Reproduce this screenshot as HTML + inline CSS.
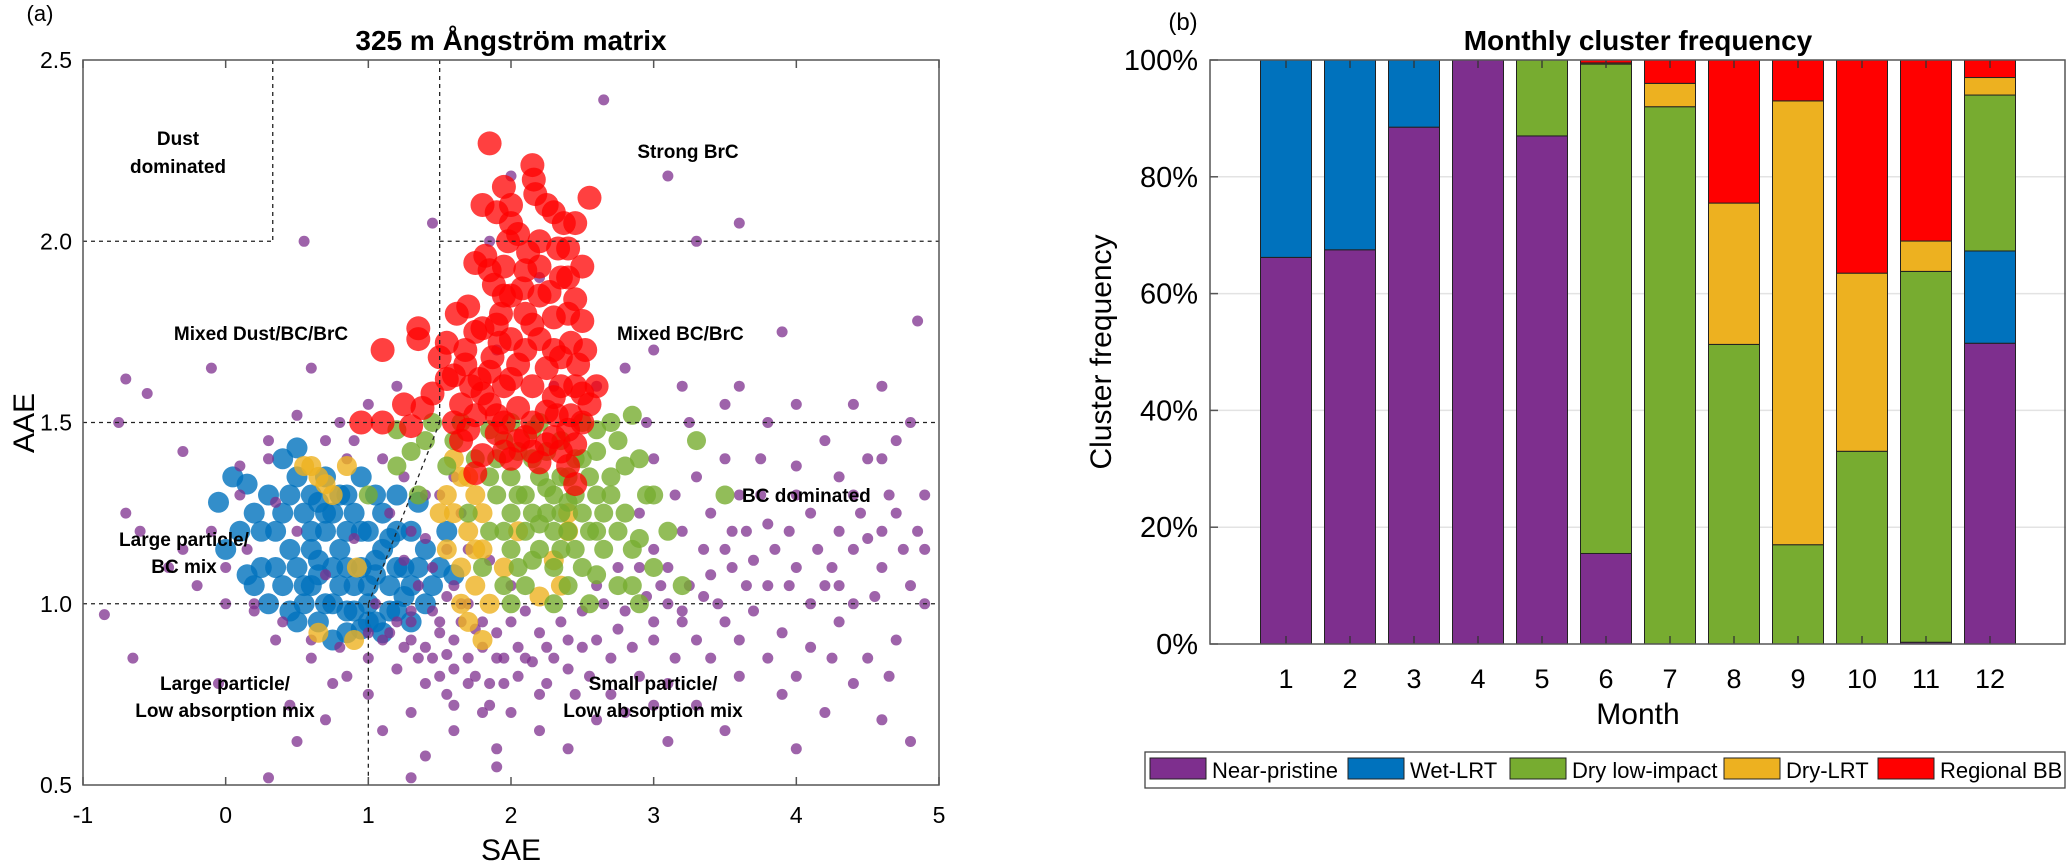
<!DOCTYPE html>
<html><head><meta charset="utf-8"><style>
html,body{margin:0;padding:0;background:#fff;}
svg{display:block;font-family:"Liberation Sans",Arial,sans-serif;}
</style></head><body>
<svg id="fig" width="2067" height="862" viewBox="0 0 2067 862" xmlns="http://www.w3.org/2000/svg">
<g id="left"></g>
<g id="right"></g>
</svg>
<script>
// ---------- Panel (a) data ----------
const xTicksA = [-1,0,1,2,3,4,5];
const yTicksA = [0.5,1.0,1.5,2.0,2.5];
const yTickLabelsA = ["0.5","1.0","1.5","2.0","2.5"];
const nearPristinePts = [[1.2,0.95],[1.3,0.9],[1.4,0.88],[1.5,0.92],[1.6,0.9],[1.7,0.85],[1.8,0.88],[1.9,0.92],[2.0,0.95],[2.1,0.98],[1.45,0.98],[1.55,1.02],[1.65,1.0],[1.35,1.05],[1.25,1.12],[1.4,1.18],[1.5,1.3],[1.6,1.35],[1.7,1.0],[1.75,0.8],[1.85,0.78],[1.6,0.82],[1.5,0.8],[1.95,0.85],[2.05,0.88],[2.2,0.92],[2.35,0.95],[2.5,0.98],[2.65,1.0],[2.8,0.98],[2.95,1.02],[3.1,1.0],[3.25,1.05],[3.4,1.08],[3.55,1.1],[3.7,1.12],[3.85,1.15],[4.0,1.1],[4.15,1.15],[4.3,1.2],[4.5,1.18],[4.7,1.25],[4.85,1.2],[3.0,1.15],[3.2,1.2],[3.4,1.25],[3.6,1.3],[3.8,1.22],[4.0,1.3],[4.2,1.05],[4.4,1.0],[4.6,1.1],[4.8,1.05],[3.3,0.9],[3.5,0.95],[3.7,0.98],[3.9,0.92],[4.1,0.88],[4.3,0.95],[4.5,0.85],[4.7,0.9],[2.7,0.85],[2.9,0.8],[3.1,0.78],[2.4,0.82],[2.2,0.75],[2.0,0.7],[1.8,0.7],[1.6,0.72],[1.4,0.78],[1.2,0.82],[1.0,0.85],[0.8,0.88],[0.6,0.9],[0.4,0.95],[0.2,0.98],[0.0,1.0],[-0.2,1.05],[-0.4,1.1],[-0.6,1.2],[-0.7,1.25],[-0.75,1.5],[-0.7,1.62],[-0.55,1.58],[-0.3,1.42],[0.1,1.38],[0.3,1.45],[0.5,1.52],[0.8,1.5],[1.0,1.55],[1.2,1.6],[0.6,1.65],[-0.1,1.65],[0.85,1.4],[0.35,1.28],[0.15,1.15],[0.5,1.2],[0.7,1.08],[1.05,1.0],[1.15,1.25],[0.9,1.18],[2.6,1.6],[2.8,1.65],[3.0,1.7],[3.2,1.6],[3.5,1.55],[3.8,1.5],[4.2,1.45],[4.5,1.4],[4.8,1.5],[4.85,1.78],[4.6,1.6],[3.9,1.75],[3.1,2.18],[3.3,2.0],[3.6,2.05],[2.65,2.39],[2.0,2.18],[1.45,2.05],[0.55,2.0],[1.85,2.0],[2.2,1.9],[1.9,1.7],[2.3,1.6],[4.4,1.3],[3.6,0.8],[3.9,0.75],[4.2,0.7],[4.6,0.68],[4.8,0.62],[3.1,0.62],[3.5,0.65],[2.4,0.6],[1.9,0.6],[1.4,0.58],[1.1,0.65],[0.7,0.68],[0.5,0.62],[0.3,0.52],[0.45,0.72],[-0.05,0.78],[-0.65,0.85],[-0.85,0.97],[1.3,0.52],[1.9,0.55],[2.8,0.7],[3.3,0.72],[4.0,0.6],[4.9,1.0],[4.9,1.3],[2.0,1.05],[1.85,1.12],[1.7,1.15],[2.6,0.9],[2.3,0.85],[1.0,0.75],[0.85,0.8],[1.3,0.98],[1.55,0.86],[1.75,0.93],[1.95,0.78],[2.15,0.84],[1.1,0.9],[1.45,0.85],[2.5,0.88],[2.75,0.93],[3.0,0.9],[3.2,0.95],[3.45,1.0],[3.65,1.05],[3.95,1.05],[4.25,1.1],[4.55,1.02],[3.1,1.1],[3.35,1.15],[3.55,1.2],[3.75,1.3],[4.1,1.25],[4.4,1.15],[4.65,1.3]];
const nearPristineExtra = [[1.3,0.95],[1.5,0.95],[1.65,0.95],[1.8,0.95],[1.9,0.85],[2.1,0.85],[2.25,0.88],[2.4,0.9],[1.35,0.85],[1.55,0.75],[1.7,0.78],[1.85,0.72],[2.05,0.8],[2.25,0.78],[2.45,0.75],[1.25,0.88],[1.15,0.92],[1.0,0.92],[1.6,1.05],[1.45,1.1],[1.3,1.2],[1.55,1.15],[1.65,1.25],[1.4,1.3],[1.25,1.35],[1.1,1.4],[0.9,1.45],[0.7,1.45],[0.3,1.4],[0.1,1.3],[-0.1,1.2],[-0.3,1.15],[0.0,1.1],[0.2,1.0],[0.35,0.9],[0.6,0.85],[0.75,0.78],[2.6,1.05],[2.75,1.1],[2.9,1.1],[3.05,1.05],[3.2,0.98],[3.35,1.02],[3.5,1.15],[3.65,1.2],[3.8,1.05],[3.95,1.2],[4.1,1.0],[4.3,1.05],[4.45,1.25],[4.6,1.2],[4.75,1.15],[4.9,1.15],[3.0,0.95],[2.85,0.88],[3.15,0.85],[3.4,0.85],[3.6,0.9],[3.8,0.85],[4.0,0.8],[4.25,0.85],[4.4,0.78],[4.65,0.8],[2.55,0.8],[2.7,0.75],[3.0,0.72],[2.6,0.68],[2.2,0.65],[1.6,0.65],[1.3,0.7],[2.9,1.25],[3.15,1.3],[3.3,1.35],[3.5,1.4],[3.75,1.4],[4.0,1.38],[4.3,1.35],[4.6,1.4],[3.0,1.4],[2.95,1.5],[3.25,1.5],[3.6,1.6],[4.0,1.55],[4.4,1.55],[4.7,1.45]];
const wetLrtPts = [[0.0,1.15],[0.1,1.2],[0.2,1.25],[0.3,1.3],[0.15,1.33],[-0.05,1.28],[0.05,1.35],[0.4,1.4],[0.5,1.43],[0.25,1.1],[0.4,1.05],[0.35,1.2],[0.45,1.3],[0.55,1.25],[0.6,1.15],[0.5,1.1],[0.55,1.0],[0.6,1.05],[0.7,1.0],[0.75,1.1],[0.7,1.2],[0.8,1.3],[0.85,1.2],[0.8,1.05],[0.9,0.98],[0.95,1.1],[1.0,1.2],[1.05,1.3],[1.1,1.15],[1.15,1.05],[1.0,0.95],[1.1,0.92],[1.2,0.98],[1.25,1.1],[1.3,1.2],[1.35,1.28],[1.4,1.15],[1.45,1.05],[1.5,1.1],[1.55,1.2],[0.65,0.95],[0.85,0.92],[1.3,0.95],[0.95,1.35],[0.7,1.35],[0.3,1.0],[0.2,1.05],[0.6,1.3],[1.2,1.3],[1.6,1.08],[0.75,0.9],[1.0,1.05],[0.9,1.25],[1.2,1.2],[0.45,0.98],[0.65,1.12],[0.85,1.1],[1.05,1.12],[0.75,1.25],[0.35,1.1],[0.45,1.15],[0.6,1.2],[0.7,1.25],[0.8,1.15],[0.9,1.05],[1.0,1.0],[1.05,1.08],[1.15,1.18],[1.25,1.02],[1.35,1.1],[0.55,1.05],[0.65,1.08],[0.75,1.0],[0.85,0.98],[0.95,0.93],[1.05,0.95],[1.15,0.98],[0.4,1.25],[0.5,1.35],[0.25,1.2],[0.15,1.08],[0.65,1.28],[0.85,1.3],[1.1,1.25],[1.3,1.05],[1.4,1.0],[0.95,1.2],[1.2,1.1],[0.5,0.95]];
const dryLrtPts = [[1.65,1.35],[1.75,1.3],[1.7,1.2],[1.8,1.15],[1.65,1.1],[1.75,1.05],[1.85,1.0],[1.6,1.25],[2.3,1.12],[2.4,1.25],[2.05,1.2],[0.65,1.35],[0.7,1.33],[0.55,1.38],[0.85,1.38],[0.92,1.1],[1.5,1.25],[1.55,1.15],[1.7,0.95],[1.8,0.9],[0.9,0.9],[0.65,0.92],[2.2,1.02],[1.95,1.1],[1.6,1.4],[1.7,1.35],[1.75,1.15],[1.65,1.0],[1.55,1.3],[0.75,1.3],[0.6,1.38],[2.4,1.2],[2.35,1.05],[1.8,1.25]];
const dryLowPts = [[1.9,1.3],[2.0,1.35],[2.1,1.3],[2.2,1.35],[2.3,1.3],[2.4,1.28],[2.0,1.25],[2.1,1.2],[2.2,1.22],[2.3,1.2],[2.5,1.25],[2.6,1.3],[2.7,1.35],[2.0,1.15],[2.15,1.12],[2.3,1.1],[2.45,1.15],[2.6,1.2],[2.8,1.25],[1.9,1.4],[2.05,1.42],[2.25,1.42],[2.45,1.4],[2.6,1.42],[2.75,1.45],[2.9,1.4],[1.85,1.2],[1.8,1.1],[2.1,1.05],[2.4,1.05],[2.6,1.08],[2.55,1.0],[2.85,1.15],[3.0,1.3],[3.1,1.2],[1.6,1.45],[1.55,1.38],[1.4,1.45],[1.3,1.42],[1.2,1.48],[1.45,1.5],[2.7,1.5],[2.85,1.52],[3.3,1.45],[3.5,1.3],[3.2,1.05],[1.7,1.25],[2.2,1.5],[2.5,1.5],[2.0,1.5],[1.85,1.48],[2.35,1.35],[2.55,1.35],[2.15,1.4],[2.25,1.25],[2.4,1.2],[2.65,1.15],[1.95,1.05],[2.75,1.05],[2.9,1.0],[1.2,1.38],[1.0,1.3],[1.35,1.3],[1.95,1.2],[2.05,1.3],[2.15,1.25],[2.25,1.32],[2.35,1.25],[2.45,1.3],[2.55,1.2],[2.65,1.25],[2.75,1.2],[2.05,1.1],[2.2,1.15],[2.35,1.15],[2.5,1.1],[2.7,1.3],[2.8,1.38],[2.95,1.3],[1.95,1.45],[2.35,1.45],[2.15,1.48],[2.6,1.48],[2.9,1.18],[2.0,1.0],[2.3,1.0],[1.85,1.35],[1.75,1.4],[1.65,1.5],[3.0,1.1],[2.85,1.05],[2.5,1.4],[2.4,1.35]];
const regionalBbPts = [[1.85,2.27],[2.15,2.21],[2.16,2.17],[2.17,2.13],[1.8,2.1],[1.9,2.08],[2.0,2.1],[2.3,2.08],[2.37,2.05],[1.98,2.0],[2.05,2.02],[2.2,2.0],[2.33,1.98],[1.82,1.96],[1.75,1.94],[1.95,1.93],[2.12,1.97],[2.4,1.9],[2.5,1.93],[1.88,1.88],[2.08,1.87],[2.27,1.86],[2.45,1.84],[1.7,1.82],[1.93,1.8],[2.1,1.8],[2.3,1.79],[2.5,1.78],[1.62,1.8],[1.8,1.76],[2.0,1.73],[2.2,1.73],[2.42,1.72],[1.55,1.72],[1.68,1.7],[1.87,1.68],[2.05,1.66],[2.25,1.65],[2.47,1.66],[1.6,1.63],[1.78,1.62],[1.95,1.6],[2.15,1.6],[2.35,1.6],[2.5,1.58],[1.65,1.55],[1.85,1.55],[2.05,1.54],[2.25,1.53],[2.42,1.52],[1.7,1.48],[1.9,1.47],[2.1,1.46],[2.3,1.46],[2.45,1.44],[1.8,1.41],[2.0,1.4],[2.2,1.39],[2.4,1.38],[1.75,1.36],[2.45,1.33],[1.45,1.58],[1.38,1.54],[1.3,1.49],[1.25,1.55],[1.1,1.5],[0.95,1.5],[1.35,1.73],[1.35,1.76],[1.1,1.7],[2.55,2.12],[2.45,2.05],[2.6,1.6],[2.52,1.7],[1.9,1.52],[2.15,1.5],[2.35,1.68],[1.72,1.6],[2.0,1.85],[2.2,1.93],[1.92,1.72],[2.32,1.52],[1.65,1.45],[1.75,1.52],[1.95,1.5],[2.05,1.45],[2.25,1.44],[2.4,1.48],[2.5,1.5],[1.68,1.66],[1.85,1.64],[2.0,1.62],[2.1,1.7],[2.3,1.7],[2.45,1.6],[2.55,1.55],[1.75,1.75],[1.9,1.77],[2.15,1.77],[2.4,1.8],[1.95,1.85],[2.2,1.85],[2.35,1.9],[1.85,1.92],[2.1,1.92],[1.6,1.5],[1.55,1.62],[1.95,1.42],[2.15,1.42],[2.35,1.42],[1.8,1.58],[2.3,1.57],[1.5,1.68],[2.0,2.05],[2.25,2.1],[1.95,2.15],[2.4,1.98]];

// ---------- Panel (b) data ----------
const months = [1,2,3,4,5,6,7,8,9,10,11,12];
const nearPristine = [66.2,67.5,88.5,100,87,15.5,0,0,0,0,0.3,51.5];
const wetLrt       = [33.8,32.5,11.5,0,0,0,0,0,0,0,0,15.8];
const dryLowImpact = [0,0,0,0,13,83.8,92,51.3,17,33,63.5,26.7];
const dryLrt       = [0,0,0,0,0,0.2,4,24.2,76,30.5,5.2,3];
const regionalBb   = [0,0,0,0,0,0.5,4,24.5,7,36.5,31,3];
const yTicksB = [0,20,40,60,80,100];
const yTickLabelsB = ["0%","20%","40%","60%","80%","100%"];

const NS="http://www.w3.org/2000/svg";
function mk(tag, attrs, parent, txt){const e=document.createElementNS(NS,tag);for(const k in attrs)e.setAttribute(k,attrs[k]);if(txt!==undefined)e.textContent=txt;parent.appendChild(e);return e;}

// ---------- Panel (a) ----------
const L=document.getElementById('left');
const AX={x0:83,x1:939,y0:60,y1:785};
const xA=v=>AX.x0+(v+1)*(AX.x1-AX.x0)/6;
const yA=v=>AX.y1-(v-0.5)*(AX.y1-AX.y0)/2;
let t;
t=mk('text',{x:40,y:21,'font-size':22,'text-anchor':'middle'},L,'(a)');


t=mk('text',{x:511,y:50,'font-size':28,'font-weight':'bold','text-anchor':'middle'},L,'325 m Ångström matrix');



const sg=mk('g',{},L);


function drawPts(arr,color,r,op,name){
  const g=mk('g',{fill:color,'fill-opacity':op},sg);
  
  
  arr.forEach(p=>{const c=mk('circle',{cx:xA(p[0]).toFixed(1),cy:yA(p[1]).toFixed(1),r:r},g);
    
    });
}
drawPts(wetLrtPts,'#0072BD',10.5,0.8,'wet-lrt-series');
drawPts(nearPristinePts,'#7E2F8E',5.5,0.75,'near-pristine-series');
drawPts(nearPristineExtra,'#7E2F8E',5.5,0.75,'near-pristine-series-extra');
drawPts(dryLrtPts,'#EDB120',10,0.8,'dry-lrt-series');
drawPts(dryLowPts,'#77AC30',9.5,0.8,'dry-low-impact-series');
drawPts(regionalBbPts,'#FF0000',12,0.75,'regional-bb-series');

// dashed region lines
const dl=mk('g',{stroke:'#222','stroke-width':1.3,'stroke-dasharray':'4,4',fill:'none'},L);


const segs=[[[0.33,2.5],[0.33,2.0]],[[-1,2.0],[0.33,2.0]],[[1.5,2.5],[1.5,1.5]],[[1.5,2.0],[5,2.0]],[[-1,1.5],[5,1.5]],[[-1,1.0],[5,1.0]],[[1,1.0],[1,0.5]],[[1,1.0],[1.5,1.5]]];
segs.forEach(s=>{const l=mk('line',{x1:xA(s[0][0]),y1:yA(s[0][1]),x2:xA(s[1][0]),y2:yA(s[1][1])},dl);
  
  });

// axes box
t=mk('rect',{x:AX.x0,y:AX.y0,width:AX.x1-AX.x0,height:AX.y1-AX.y0,fill:'none',stroke:'#555','stroke-width':1.5},L);


xTicksA.forEach(v=>{const x=xA(v);
  mk('line',{x1:x,y1:AX.y1,x2:x,y2:AX.y1-8,stroke:'#555','stroke-width':1.5},L);
  mk('line',{x1:x,y1:AX.y0,x2:x,y2:AX.y0+8,stroke:'#555','stroke-width':1.5},L);
  const tx=mk('text',{x:x,y:823,'font-size':23,'text-anchor':'middle'},L,String(v));
  
  });
yTicksA.forEach((v,i)=>{const y=yA(v);
  const tx=mk('text',{x:72,y:y+8,'font-size':23,'text-anchor':'end'},L,yTickLabelsA[i]);
  
  });
t=mk('text',{x:511,y:860,'font-size':30,'text-anchor':'middle'},L,'SAE');


t=mk('text',{x:0,y:0,'font-size':30,'text-anchor':'middle',transform:'translate(34,423) rotate(-90)'},L,'AAE');



const labels=[["Dust",178,145,'middle'],["dominated",178,173,'middle'],["Strong BrC",688,158,'middle'],["Mixed Dust/BC/BrC",261,340,'middle'],["Mixed BC/BrC",617,340,'start'],["BC dominated",742,502,'start'],["Large particle/",184,546,'middle'],["BC mix",184,573,'middle'],["Large particle/",225,690,'middle'],["Low absorption mix",225,717,'middle'],["Small particle/",653,690,'middle'],["Low absorption mix",653,717,'middle']];
labels.forEach(l=>{const tx=mk('text',{x:l[1],y:l[2],'font-size':19,'font-weight':'bold','text-anchor':l[3]},L,l[0]);
  
  });

// ---------- Panel (b) ----------
const R=document.getElementById('right');
const BX={x0:1210,x1:2066,y0:60,y1:644};
const xB=m=>1286+(m-1)*64;
const yB=p=>BX.y1-p*(BX.y1-BX.y0)/100;
t=mk('text',{x:1183,y:30,'font-size':24,'text-anchor':'middle'},R,'(b)');


t=mk('text',{x:1638,y:50,'font-size':28,'font-weight':'bold','text-anchor':'middle'},R,'Monthly cluster frequency');


yTicksB.forEach((v,i)=>{const y=yB(v);
  if(v>0&&v<100){const g=mk('line',{x1:BX.x0,y1:y,x2:BX.x1,y2:y,stroke:'#e3e3e3','stroke-width':1.5},R);
    
    }
  mk('line',{x1:BX.x0,y1:y,x2:BX.x0+8,y2:y,stroke:'#555','stroke-width':1.5},R);
  const tx=mk('text',{x:1198,y:y+10,'font-size':29,'text-anchor':'end'},R,yTickLabelsB[i]);
  
  });
const series=[[nearPristine,'#7E2F8E','near-pristine'],[wetLrt,'#0072BD','wet-lrt'],[dryLowImpact,'#77AC30','dry-low-impact'],[dryLrt,'#EDB120','dry-lrt'],[regionalBb,'#FF0000','regional-bb']];
months.forEach((m,i)=>{let cum=0;
  series.forEach(s=>{const v=s[0][i];if(v<=0){return;}
    const r=mk('rect',{x:xB(m)-25.5,y:yB(cum+v),width:51,height:yB(cum)-yB(cum+v),fill:s[1],stroke:'#222','stroke-width':1},R);
    
    
    cum+=v;});
  mk('line',{x1:xB(m),y1:BX.y1,x2:xB(m),y2:BX.y1-8,stroke:'#333','stroke-width':1.3},R);
  mk('line',{x1:xB(m),y1:BX.y0,x2:xB(m),y2:BX.y0+8,stroke:'#333','stroke-width':1.3},R);
  const tx=mk('text',{x:xB(m),y:688,'font-size':27,'text-anchor':'middle'},R,String(m));
  
  });
t=mk('rect',{x:BX.x0,y:BX.y0,width:BX.x1-BX.x0-1,height:BX.y1-BX.y0,fill:'none',stroke:'#555','stroke-width':1.5},R);


t=mk('text',{x:1638,y:724,'font-size':30,'text-anchor':'middle'},R,'Month');


t=mk('text',{x:0,y:0,'font-size':30,'text-anchor':'middle',transform:'translate(1111,352) rotate(-90)'},R,'Cluster frequency');



// legend
const lg=mk('g',{},R);


mk('rect',{x:1145,y:752,width:920,height:36,fill:'#fff',stroke:'#444','stroke-width':1.3},lg);
const legendNames=['Near-pristine','Wet-LRT','Dry low-impact','Dry-LRT','Regional BB'];
const legendX=[1150,1348,1510,1724,1878];
legendNames.forEach((n,i)=>{
  const e=mk('g',{},lg);
  
  
  mk('rect',{x:legendX[i],y:758,width:56,height:21,fill:series[i][1],stroke:'#222','stroke-width':1},e);
  mk('text',{x:legendX[i]+62,y:778,'font-size':22},e,n);
});
</script>
</body></html>
